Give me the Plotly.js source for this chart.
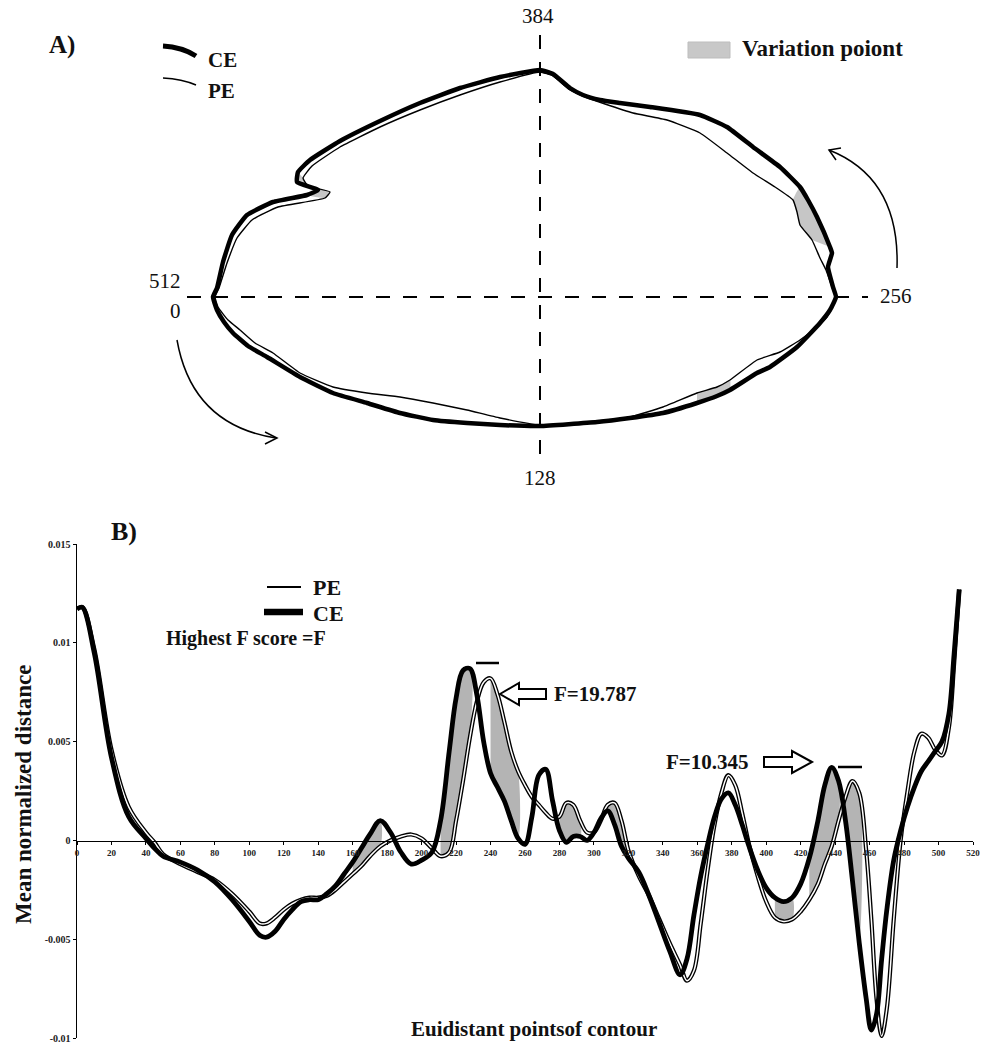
<!DOCTYPE html>
<html><head><meta charset="utf-8">
<script src="https://cdn.plot.ly/plotly-3.0.1.min.js"></script>
<style>html,body{margin:0;padding:0;background:#fff}#chart{width:984px;height:1044px}</style>
</head><body><div id="chart"></div>
<script>
// ---------- Panel A: mean contours (offsets from the cross centre, y up) ----------
const ceX = [-327,-323,-316,-307,-292,-273,-240,-207,-173,-140,-107,-73,-40,0,57,90,123,157,177,190,217,230,257,280,290,296,293,288,292,290,277,268,260,240,213,187,160,110,80,60,43,30,13,0,-40,-80,-120,-160,-200,-230,-242,-243,-222,-233,-267,-293,-308,-317,-323,-327];
const ceY = [0,-13,-25,-36,-49,-60,-80,-96,-106,-116,-123,-126,-128,-129,-125,-121,-116,-106,-99,-93,-76,-70,-50,-26,-13,0,10,30,44,50,80,97,110,130,150,170,182,190,194,197,202,209,223,227,220,209,194,176,156,137,125,115,107,102,95,82,62,35,9,0];
const peX = [-325,-322,-312,-300,-285,-267,-240,-207,-173,-140,-107,-73,-40,0,57,90,123,157,177,190,217,240,260,273,287,296,292,286,280,272,260,257,253,235,213,187,160,127,93,65,45,30,13,0,-40,-80,-120,-160,-200,-228,-237,-232,-210,-215,-262,-288,-303,-313,-321,-325];
const peY = [0,-10,-23,-33,-46,-56,-76,-90,-96,-100,-106,-113,-121,-128,-124,-120,-110,-96,-90,-83,-63,-55,-43,-33,-20,0,10,27,39,57,72,85,97,110,124,144,164,177,184,193,200,207,221,225,215,202,187,170,150,131,119,111,105,99,90,77,59,34,9,0];
const contourFillRanges = [[17,19],[29,32],[50,53]];
const contourLabels = ['384','128','512','0','256'];

// ---------- Panel B: mean normalized distance ----------
const pointX = [0,3,10,20,30,40,45,50,60,70,80,90,100,106,110,115,120,125,130,135,140,145,150,155,160,165,170,176,182,188,194,200,206,211,216,220,224,228,232,236,240,244,248,252,256,260,264,268,272,276,280,284,288,292,296,300,304,308,312,316,320,326,332,338,344,350,354,358,362,366,370,374,378,382,386,390,395,400,405,410,415,420,425,430,434,438,442,446,450,454,458,461,464,467,470,474,478,482,486,490,494,498,502,506,509,512];
const ceDist = [0.0117,0.0118,0.0095,0.0042,0.0012,0.0001,-0.0004,-0.0008,-0.0011,-0.0015,-0.0021,-0.0030,-0.0041,-0.0048,-0.0049,-0.0046,-0.0040,-0.0035,-0.0031,-0.0030,-0.0030,-0.0027,-0.0023,-0.0017,-0.0011,-0.0004,0.0003,0.0010,0.0004,-0.0006,-0.0012,-0.0010,-0.0006,0.0010,0.0045,0.0072,0.0086,0.0087,0.0074,0.0050,0.0034,0.0027,0.0020,0.0010,0.0001,-0.0002,0.0012,0.0033,0.0036,0.0020,0.0005,-0.0001,0.0002,0.0002,0.0000,0.0004,0.0011,0.0015,0.0008,-0.0003,-0.0009,-0.0016,-0.0028,-0.0042,-0.0056,-0.0068,-0.0060,-0.0038,-0.0018,-0.0002,0.0012,0.0021,0.0024,0.0018,0.0008,-0.0003,-0.0015,-0.0024,-0.0029,-0.0031,-0.0029,-0.0022,-0.0009,0.0010,0.0028,0.0037,0.0030,0.0010,-0.0020,-0.0052,-0.0080,-0.0096,-0.0088,-0.0060,-0.0035,-0.0010,0.0005,0.0017,0.0027,0.0035,0.0040,0.0045,0.0050,0.0064,0.0094,0.0127];
const peDist = [0.0117,0.0118,0.0097,0.0046,0.0017,0.0004,-0.0001,-0.0007,-0.0012,-0.0016,-0.0020,-0.0027,-0.0036,-0.0042,-0.0042,-0.0039,-0.0035,-0.0032,-0.0030,-0.0029,-0.0029,-0.0028,-0.0025,-0.0021,-0.0017,-0.0013,-0.0008,-0.0003,0.0000,0.0002,0.0003,0.0001,-0.0004,-0.0008,-0.0006,0.0010,0.0030,0.0052,0.0070,0.0080,0.0082,0.0074,0.0060,0.0045,0.0035,0.0028,0.0022,0.0018,0.0014,0.0011,0.0012,0.0019,0.0018,0.0010,0.0004,0.0004,0.0010,0.0018,0.0019,0.0010,-0.0005,-0.0018,-0.0028,-0.0040,-0.0052,-0.0063,-0.0071,-0.0066,-0.0042,-0.0015,0.0008,0.0024,0.0033,0.0028,0.0014,-0.0002,-0.0018,-0.0031,-0.0039,-0.0041,-0.0040,-0.0036,-0.0030,-0.0022,-0.0012,-0.0003,0.0010,0.0022,0.0030,0.0024,-0.0005,-0.0040,-0.0080,-0.0099,-0.0085,-0.0040,0.0000,0.0025,0.0045,0.0054,0.0052,0.0046,0.0043,0.0057,0.0089,0.0127];
const distFillRanges = [[160,176],[211,228],[240,256],[280,292],[308,320],[405,415],[425,442],[446,454]];
const xTickVals = [0,20,40,60,80,100,120,140,160,180,200,220,240,260,280,300,320,340,360,380,400,420,440,460,480,500,520];
const yTickVals = [-0.01,-0.005,0,0.005,0.01,0.015];
const yTickText = ['-0.01','-0.005','0','0.005','0.01','0.015'];
const fScores = ['F=19.787','F=10.345'];

// ---------- helpers (page pixels -> paper) ----------
const W = 984, H = 1044;
const px = x => x / W, py = y => 1 - y / H;
const P = (x, y) => px(x) + ',' + py(y);
const SERIF = 'Liberation Serif, Times New Roman, serif';

const traces = [];
// Panel A fills
contourFillRanges.forEach(([a, b]) => {
  const xs = [], ys = [];
  for (let i = a; i <= b; i++) { xs.push(ceX[i]); ys.push(ceY[i]); }
  for (let i = b; i >= a; i--) { xs.push(peX[i]); ys.push(peY[i]); }
  traces.push({x: xs, y: ys, xaxis: 'x', yaxis: 'y', mode: 'lines', fill: 'toself',
    fillcolor: '#c6c6c6', line: {width: 0, shape: 'spline', smoothing: 0.4}, hoverinfo: 'skip'});
});
traces.push({x: peX, y: peY, xaxis: 'x', yaxis: 'y', mode: 'lines', name: 'PE',
  line: {color: '#000', width: 1.4, shape: 'spline', smoothing: 0.4}});
traces.push({x: ceX, y: ceY, xaxis: 'x', yaxis: 'y', mode: 'lines', name: 'CE',
  line: {color: '#000', width: 4.5, shape: 'spline', smoothing: 0.4}});

// Panel B fills
distFillRanges.forEach(([a, b]) => {
  const xs = [], ys = [], xr = [], yr = [];
  pointX.forEach((v, i) => { if (v >= a && v <= b) { xs.push(v); ys.push(ceDist[i]); xr.push(v); yr.push(peDist[i]); } });
  traces.push({x: xs.concat(xr.reverse()), y: ys.concat(yr.reverse()), xaxis: 'x2', yaxis: 'y2',
    mode: 'lines', fill: 'toself', fillcolor: '#b4b4b4', line: {width: 0, shape: 'spline', smoothing: 1}, hoverinfo: 'skip'});
});
traces.push({x: pointX, y: peDist, xaxis: 'x2', yaxis: 'y2', mode: 'lines', name: 'PE',
  line: {color: '#000', width: 4.2, shape: 'spline', smoothing: 1}});
traces.push({x: pointX, y: peDist, xaxis: 'x2', yaxis: 'y2', mode: 'lines', hoverinfo: 'skip',
  line: {color: '#fff', width: 1.5, shape: 'spline', smoothing: 1}});
traces.push({x: pointX, y: ceDist, xaxis: 'x2', yaxis: 'y2', mode: 'lines', name: 'CE',
  line: {color: '#000', width: 4.8, shape: 'spline', smoothing: 1}});

const ann = (x, y, text, size, bold, opts) => Object.assign({
  xref: 'paper', yref: 'paper', x: px(x), y: py(y), text: bold ? '<b>' + text + '</b>' : text,
  showarrow: false, xanchor: 'center', yanchor: 'middle',
  font: {family: SERIF, size: size, color: '#111'}
}, opts || {});

const annotations = [
  ann(62, 45, 'A)', 25, true),
  ann(206, 60, 'CE', 21, true, {xanchor: 'left'}),
  ann(206, 91, 'PE', 21, true, {xanchor: 'left'}),
  ann(740, 49, 'Variation poiont', 23, true, {xanchor: 'left'}),
  ann(538, 16, contourLabels[0], 21, false),
  ann(540, 478, contourLabels[1], 21, false),
  ann(165, 281, contourLabels[2], 21, false),
  ann(175, 311, contourLabels[3], 21, false),
  ann(896, 296, contourLabels[4], 21, false),
  ann(124, 531, 'B)', 26, true),
  ann(311, 587, 'PE', 22, true, {xanchor: 'left'}),
  ann(311, 613, 'CE', 22, true, {xanchor: 'left'}),
  ann(164, 638, 'Highest F score =F', 20, true, {xanchor: 'left'}),
  ann(552, 694, fScores[0], 21, true, {xanchor: 'left'}),
  ann(664, 762, fScores[1], 21, true, {xanchor: 'left'}),
  ann(23, 795, 'Mean normalized distance', 23, true, {textangle: -90}),
  ann(534, 1029, 'Euidistant pointsof contour', 21, true)
];

const line = (x0, y0, x1, y1, w, dash) => ({type: 'line', xref: 'paper', yref: 'paper',
  x0: px(x0), y0: py(y0), x1: px(x1), y1: py(y1), line: {color: '#000', width: w, dash: dash || 'solid'}});
const path = (d, w, fill) => ({type: 'path', xref: 'paper', yref: 'paper', path: d,
  line: {color: '#000', width: w}, fillcolor: fill || 'rgba(0,0,0,0)'});

const shapes = [
  // contour reference cross
  line(187, 297, 868, 297, 2, '14px,13px'),
  line(540, 35, 540, 457, 2, '14px,13px'),
  // curved direction arrows
  path('M' + P(177, 340) + ' Q' + P(192, 425) + ' ' + P(276, 438), 1.5),
  path('M' + P(265, 432) + ' L' + P(277, 438) + ' L' + P(265, 444), 1.5),
  path('M' + P(897, 268) + ' Q' + P(900, 178) + ' ' + P(829, 150), 1.5),
  path('M' + P(836, 160) + ' L' + P(829, 150) + ' L' + P(841, 148), 1.5),
  // legend A
  path('M' + P(163, 46) + ' Q' + P(182, 47) + ' ' + P(196, 56), 5),
  path('M' + P(163, 78) + ' Q' + P(182, 79) + ' ' + P(196, 85), 1.6),
  {type: 'rect', xref: 'paper', yref: 'paper', x0: px(688), x1: px(730), y0: py(42), y1: py(58),
   fillcolor: '#c8c8c8', line: {color: '#bdbdbd', width: 1}},
  // legend B
  line(267, 587, 301, 587, 2),
  line(264, 612, 303, 612, 6.5),
  // peak markers
  line(476, 663, 499, 663, 2.5),
  line(838, 767, 862, 767, 2.5),
  // hollow arrows
  path('M' + P(500, 694) + ' L' + P(519, 683) + ' L' + P(519, 689) + ' L' + P(546, 689) + ' L' + P(546, 699) +
       ' L' + P(519, 699) + ' L' + P(519, 705) + ' Z', 2, '#fff'),
  path('M' + P(812, 762) + ' L' + P(792, 751) + ' L' + P(792, 757) + ' L' + P(764, 757) + ' L' + P(764, 767) +
       ' L' + P(792, 767) + ' L' + P(792, 773) + ' Z', 2, '#fff')
];

const tickFont = {family: SERIF, size: 9, color: '#222', weight: 'bold'};
const layout = {
  width: W, height: H, margin: {l: 0, r: 0, t: 0, b: 0},
  paper_bgcolor: '#fff', plot_bgcolor: 'rgba(0,0,0,0)', showlegend: false,
  xaxis: {domain: [0, 1], range: [-540, 444], visible: false, fixedrange: true},
  yaxis: {domain: [py(490), 1], range: [-193, 297], visible: false, fixedrange: true},
  xaxis2: {domain: [px(77), px(973)], range: [0, 520], anchor: 'free', position: py(841),
    tickmode: 'array', tickvals: xTickVals, ticks: 'outside', ticklen: 3, tickwidth: 1, tickcolor: '#000',
    showline: true, linecolor: '#000', linewidth: 1, showgrid: false, zeroline: false, tickfont: tickFont},
  yaxis2: {domain: [py(1038), py(544)], range: [-0.01, 0.015], anchor: 'x2',
    tickmode: 'array', tickvals: yTickVals, ticktext: yTickText, ticks: 'outside', ticklen: 3, tickwidth: 1, tickcolor: '#000',
    showline: true, linecolor: '#000', linewidth: 1.5, showgrid: false, zeroline: false,
    tickfont: {family: SERIF, size: 10, color: '#222', weight: 'bold'}},
  annotations: annotations,
  shapes: shapes
};

Plotly.newPlot('chart', traces, layout, {displayModeBar: false, staticPlot: true});
</script></body></html>
